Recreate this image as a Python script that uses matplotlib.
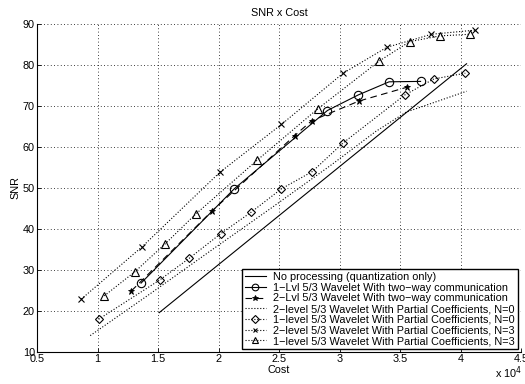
import matplotlib
matplotlib.use("Agg")
import matplotlib.pyplot as plt
from matplotlib.ticker import FixedLocator

plt.rcParams['font.family'] = ['Liberation Sans', 'DejaVu Sans']

# Cost values are in units of 10^4
noproc_x = [1.51, 4.05]
noproc_y = [19.6, 80.3]

lvl1_tw_x = [1.36, 2.13, 2.90, 3.155, 3.41, 3.67]
lvl1_tw_y = [26.8, 49.8, 68.9, 72.7, 75.9, 76.0]

lvl2_tw_x = [1.28, 1.95, 2.63, 2.77, 3.16, 3.56]
lvl2_tw_y = [24.9, 44.5, 62.8, 66.4, 71.2, 74.6]

lvl2_n0_x = [0.94, 1.44, 1.94, 2.44, 2.94, 3.30, 3.55, 4.05]
lvl2_n0_y = [14.0, 24.3, 34.8, 45.2, 55.8, 63.8, 68.5, 73.6]

lvl1_n0_x = [1.01, 1.516, 1.76, 2.02, 2.27, 2.52, 2.775, 3.03, 3.54, 3.78, 4.04]
lvl1_n0_y = [18.0, 27.6, 32.9, 38.9, 44.1, 49.8, 54.0, 61.0, 72.7, 76.6, 78.0]

lvl2_n3_x = [0.866, 1.37, 2.01, 2.52, 3.03, 3.39, 3.76, 4.12]
lvl2_n3_y = [22.9, 35.7, 53.8, 65.5, 78.0, 84.3, 87.5, 88.5]

lvl1_n3_x = [1.056, 1.31, 1.56, 1.81, 2.32, 2.82, 3.33, 3.58, 3.83, 4.08]
lvl1_n3_y = [23.7, 29.6, 36.4, 43.6, 56.8, 69.3, 81.0, 85.7, 87.1, 87.5]

labels = [
    "No processing (quantization only)",
    "1\u2212Lvl 5/3 Wavelet With two\u2212way communication",
    "2\u2212Lvl 5/3 Wavelet With two\u2212way communication",
    "2\u2212level 5/3 Wavelet With Partial Coefficients, N=0",
    "1\u2212level 5/3 Wavelet With Partial Coefficients, N=0",
    "2\u2212level 5/3 Wavelet With Partial Coefficients, N=3",
    "1\u2212level 5/3 Wavelet With Partial Coefficients, N=3",
]

xticks = [0.5, 1, 1.5, 2, 2.5, 3, 3.5, 4, 4.5]
xticklabels = ["0.5", "1", "1.5", "2", "2.5", "3", "3.5", "4", "4.5"]
yticks = [10, 20, 30, 40, 50, 60, 70, 80, 90]

fig = plt.figure(figsize=(5.25, 3.84), dpi=100)
ax = fig.add_axes([37/525, 1-352/384, (521-37)/525, (352-24)/384])

fs = 7.8
ax.plot(noproc_x, noproc_y, '-', color='k', lw=0.8, label=labels[0])
ax.plot(lvl1_tw_x, lvl1_tw_y, '-o', color='k', lw=0.8, ms=6, mfc='none', mew=0.8, label=labels[1])
ax.plot(lvl2_tw_x, lvl2_tw_y, '--*', color='k', lw=0.8, ms=5, mfc='k', mew=0.6, dashes=(6, 4), label=labels[2])
ax.plot(lvl2_n0_x, lvl2_n0_y, ':', color='k', lw=0.8, label=labels[3])
ax.plot(lvl1_n0_x, lvl1_n0_y, ':D', color='k', lw=0.8, ms=4.5, mfc='none', mew=0.8, label=labels[4])
ax.plot(lvl2_n3_x, lvl2_n3_y, ':x', color='k', lw=0.8, ms=4, mew=0.8, label=labels[5])
ax.plot(lvl1_n3_x, lvl1_n3_y, ':^', color='k', lw=0.8, ms=6, mfc='none', mew=0.8, label=labels[6])

ax.set_xlim(0.5, 4.5)
ax.set_ylim(10, 90)
ax.xaxis.set_major_locator(FixedLocator(xticks))
ax.set_xticklabels(xticklabels, fontsize=fs)
ax.yaxis.set_major_locator(FixedLocator(yticks))
ax.set_yticklabels([str(v) for v in yticks], fontsize=fs)
ax.tick_params(direction='in', length=3, width=0.6, pad=1.5)
ax.grid(True, linestyle=(0, (1, 3)), color='k', lw=0.6)
for s in ['top', 'right']:
    ax.spines[s].set_visible(False)
for s in ['left', 'bottom']:
    ax.spines[s].set_linewidth(0.8)

ax.set_xlabel("Cost", fontsize=fs, labelpad=1)
ax.set_ylabel("SNR", fontsize=fs, labelpad=2)
ax.set_title("SNR x Cost", fontsize=fs, pad=6)
fig.text(0.995, 0.008, r"x 10$^4$", ha='right', va='bottom', fontsize=fs)

leg = ax.legend(loc='lower right', fontsize=fs, frameon=True, fancybox=False,
                edgecolor='k', framealpha=1, handlelength=1.9, handletextpad=0.7,
                labelspacing=0.06, borderpad=0.25, borderaxespad=0.3, markerscale=0.8)
leg.get_frame().set_linewidth(1.0)

fig.savefig("out.png", dpi=100)
